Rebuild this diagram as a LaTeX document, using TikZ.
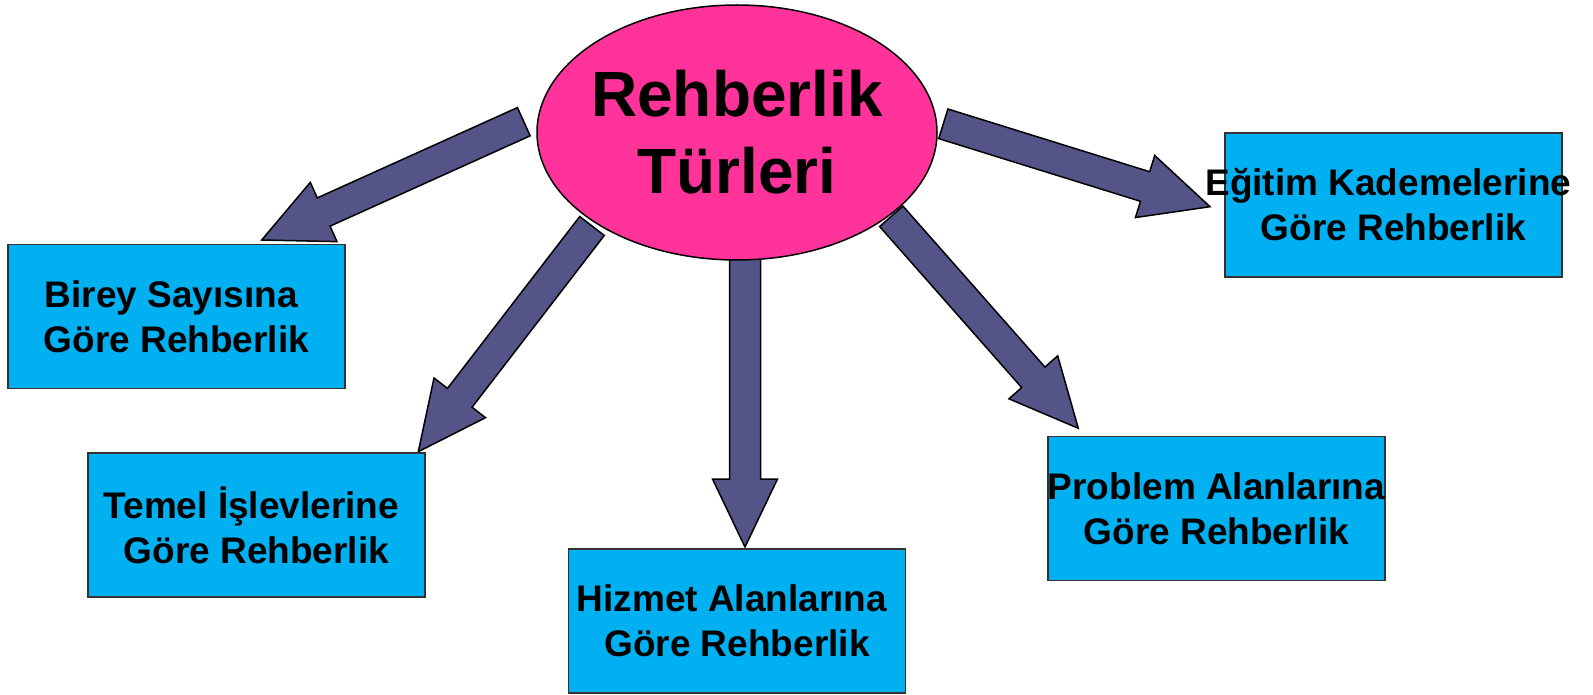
\documentclass[tikz,border=0pt]{standalone}
\usepackage{fontspec}
\setmainfont{Liberation Sans}
\usetikzlibrary{shapes.geometric}
\usetikzlibrary{calc}

\definecolor{pembe}{RGB}{255,51,153}
\definecolor{mavi}{RGB}{0,176,240}
\definecolor{okrengi}{RGB}{84,84,136}

\tikzset{
	kutu/.style={draw=black!80, line width=1.5pt, fill=mavi, minimum width=337pt, minimum height=144pt, inner sep=0pt, align=center, font=\fontsize{37}{45}\selectfont\bfseries},
	merkez/.style={ellipse, draw=black, line width=1.5pt, fill=pembe, minimum width=400pt, minimum height=255pt, inner sep=0pt, align=center, font=\fontsize{64}{77}\selectfont\bfseries},
	blokok/.style={draw=black, line width=1.5pt, fill=okrengi, line join=miter}
}

% two centred lines that do not widen the node
\newcommand{\iki}[2]{\makebox[0pt]{#1}\\\makebox[0pt]{#2}}
% block arrow from #1 (tail) to #2 (tip)
\newcommand{\okblok}[2]{%
	\coordinate (hb) at ($(#2)!68pt!(#1)$);
	\draw[blokok] ($(#1)!15.5pt!90:(#2)$) -- ($(hb)!15.5pt!90:(#2)$) -- ($(hb)!32.5pt!90:(#2)$) -- (#2)
	-- ($(hb)!32.5pt!-90:(#2)$) -- ($(hb)!15.5pt!-90:(#2)$) -- ($(#1)!15.5pt!-90:(#2)$) -- cycle;}

\begin{document}
\begin{tikzpicture}[x=1pt, y=-1pt]
	\useasboundingbox (0,0) rectangle (1593,695);
	%%%	Help Lines
%	\draw [thin, help lines] (0,0) grid[step=100] (1593,695);
	%%%	Frecce
	\coordinate (k1) at (523.8,121.7);  \coordinate (u1) at (261.7,240);
	\coordinate (k2) at (592,226);      \coordinate (u2) at (418.3,451.7);
	\coordinate (k3) at (745,258);      \coordinate (u3) at (745,547);
	\coordinate (k4) at (891.3,216.3);  \coordinate (u4) at (1078.3,428.3);
	\coordinate (k5) at (943.3,123.8);  \coordinate (u5) at (1210,206.7);
	\foreach \i in {1,...,5}
	\okblok{k\i}{u\i};
	%%%	Disegno
	\node[merkez] (turler) at (737,132.5) {\iki{Rehberlik}{Türleri}};
	
	\node[kutu] (birey) at (176.5,316.5) {\iki{Birey Sayısına\ }{Göre Rehberlik}};
	\node[kutu] (temel) at (256.5,525) {\iki{Temel İşlevlerine\ }{Göre Rehberlik}};
	\node[kutu] (hizmet) at (737,621) {\iki{Hizmet Alanlarına\ }{Göre Rehberlik}};
	\node[kutu] (problem) at (1216.5,508.5) {\iki{Problem Alanlarına}{Göre Rehberlik}};
	\node[kutu] (egitim) at (1393.5,205) {\iki{Eğitim Kademelerine\ }{Göre Rehberlik}};
\end{tikzpicture}
\end{document}
